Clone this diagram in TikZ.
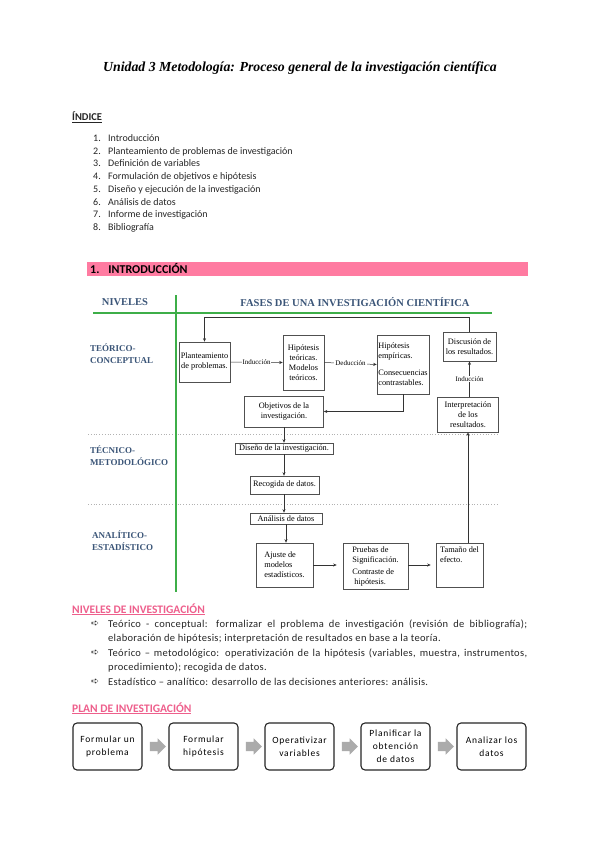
\documentclass[tikz,border=0pt]{standalone}
\usepackage{fontspec}
\setmainfont{Carlito}
\newfontfamily\serifd{Liberation Serif}
\newfontfamily\dingf{DejaVu Sans}
\newfontfamily\spacedf[LetterSpace=8]{Carlito}
\newfontfamily\bodyf[LetterSpace=3]{Carlito}
\usetikzlibrary{arrows.meta,shapes.arrows}
\definecolor{pinkbar}{HTML}{FF7BA1}
\definecolor{pinkhead}{HTML}{EE5F8C}
\definecolor{lvlblue}{HTML}{3B5578}
\definecolor{greenl}{HTML}{3DAE48}
\definecolor{boxline}{HTML}{505050}
\begin{document}
\hyphenpenalty=10000
\exhyphenpenalty=10000
\begin{tikzpicture}[x=1pt,y=-1pt,
  box/.style={draw=boxline, line width=0.6pt, inner sep=0.5pt, align=center,
    font=\serifd\fontsize{8.3}{10}\selectfont},
  lbox/.style={box, align=left},
  arr/.style={-{Stealth[length=3.5pt,width=3pt]}, line width=0.5pt, draw=black!80},
  arrlab/.style={fill=white, inner sep=1pt, font=\serifd\fontsize{7}{8}\selectfont},
  lvl/.style={font=\serifd\bfseries\fontsize{9}{12}\selectfont, text=lvlblue, align=left, anchor=north west, inner sep=0pt},
  hdr/.style={font=\serifd\bfseries\fontsize{10.5}{12}\selectfont, text=lvlblue, inner sep=0pt},
  idx/.style={anchor=base west, inner sep=0pt, font=\fontsize{10}{12}\selectfont, text=black!85},
  bul/.style={anchor=north west, inner sep=0pt, text width=419pt, align=justify,
    font=\bodyf\fontsize{10.5}{14}\selectfont, text=black!85},
  ding/.style={anchor=north west, inner sep=0pt, font=\dingf\fontsize{9.5}{14}\selectfont, text=black!85},
  pinkhd/.style={anchor=base west, inner sep=0pt, font=\bfseries\fontsize{11.5}{13}\selectfont, text=pinkhead},
  planbox/.style={draw=black!85, line width=1.1pt, rounded corners=4pt, minimum width=69pt,
    minimum height=47pt, align=center, font=\spacedf\fontsize{9.5}{13}\selectfont, inner sep=1pt},
  blockarr/.style={single arrow, fill=black!33, draw=none, minimum height=16pt,
    single arrow head extend=3.5pt, inner sep=4.5pt}
]
\fill[white] (0,0) rectangle (599,848);
\useasboundingbox (0,0) rectangle (599,848);

% title
\node (title) at (300,68) {\fontspec{Liberation Serif}\bfseries\itshape\fontsize{13.8}{16}\selectfont Unidad 3 Metodología: Proceso general de la investigación científica};

% index
\node[idx, font=\bfseries\fontsize{10.5}{12}\selectfont] (indice) at (72,121) {\underline{ÍNDICE}};
\foreach \n/\t [count=\i from 0] in {1/Introducción, 2/Planteamiento de problemas de investigación, 3/Definición de variables, 4/Formulación de objetivos e hipótesis, 5/Diseño y ejecución de la investigación, 6/Análisis de datos, 7/Informe de investigación, 8/Bibliografía}{
  \node[idx] (num\n) at (93,141.5+12.7*\i) {\n.};
  \node[idx] (item\n) at (108,141.5+12.7*\i) {\t};
}

% pink bar
\fill[pinkbar] (87,262) rectangle (528,276);
\node[idx, font=\bfseries\fontsize{12}{13}\selectfont, text=black] (intro) at (90,273.5) {1.\hspace{9pt}INTRODUCCIÓN};

% diagram frame
\draw[black!30, line width=0.8pt, dotted] (88,434) -- (498,434);
\draw[black!30, line width=0.8pt, dotted] (88,504) -- (498,504);
\draw[greenl, line width=2.2pt] (93,313) -- (492,313);
\draw[greenl, line width=2.2pt] (176,295) -- (176,592);

\node[hdr] (niveles) at (125,302) {NIVELES};
\node[hdr] (fases) at (355,302) {FASES DE UNA INVESTIGACIÓN CIENTÍFICA};

\node[lvl] (teo) at (90,344) {TEÓRICO-\\CONCEPTUAL};
\node[lvl] (tec) at (90,446) {TÉCNICO-\\METODOLÓGICO};
\node[lvl] (ana) at (92,531) {ANALÍTICO-\\ESTADÍSTICO};

% boxes
\node[box, minimum width=51pt, minimum height=40pt] (plant) at (204.5,362) {Planteamiento\\de problemas.};
\node[box, minimum width=41pt, minimum height=55pt] (hipt) at (303.5,362.5) {Hipótesis\\teóricas.\\Modelos\\teóricos.};
\node[lbox, minimum width=52pt, minimum height=59pt] (hipe) at (403,364.5) {Hipótesis\\empíricas.\\[7pt]Consecuencias\\contrastables.};
\node[box, minimum width=79pt, minimum height=31pt] (obj) at (284,411.5) {Objetivos de la\\investigación.};
\node[box, minimum width=53pt, minimum height=29pt] (disc) at (469.5,346.5) {Discusión de\\los resultados.};
\node[box, minimum width=61pt, minimum height=35pt] (interp) at (468,414.5) {Interpretación\\de los\\resultados.};
\node[box, minimum width=98pt, minimum height=11pt, inner sep=0.3pt] (dis) at (284,448.5) {Diseño de la investigación.};
\node[box, minimum width=69pt, minimum height=18pt] (rec) at (284.5,485) {Recogida de datos.};
\node[box, minimum width=72pt, minimum height=11pt, inner sep=0.3pt] (anal) at (286,518.5) {Análisis de datos};
\node[lbox, minimum width=57pt, minimum height=44pt] (ajus) at (284.5,565) {Ajuste de\\modelos\\estadísticos.};
\node[lbox, minimum width=65pt, minimum height=46pt] (prue) at (375.5,566) {Pruebas de\\Significación.\\[2pt]Contraste de\\\ hipótesis.};
\node[lbox, minimum width=47pt, minimum height=44pt] (tam) at (459.5,565) {Tamaño del\\efecto.\\~\\~};

% connectors
\draw[arr] (disc.north) -- ++(0,-14) -| (plant.north);
\draw[arr] (plant.east) -- node[arrlab] {Inducción} (hipt.west);
\draw[arr] (hipt.east) -- node[arrlab] {Deducción} (hipe.west);
\draw[arr] (hipe.south) |- (obj.east);
\draw[arr] (dis.north |- obj.south) -- (dis.north);
\draw[arr] (dis.south) -- (dis.south |- rec.north);
\draw[arr] (dis.south |- rec.south) -- (dis.south |- anal.north);
\draw[arr] (anal.south) -- (anal.south |- ajus.north);
\draw[arr, shorten >=6pt] (ajus.east) -- (ajus.east -| prue.west);
\draw[arr, shorten >=5pt] (prue.east |- ajus.east) -- (ajus.east -| tam.west);
\draw[arr] (interp.south |- tam.north) -- (interp.south);
\draw[arr] (disc.south |- interp.north) -- node[arrlab, fill=white] {Inducción} (disc.south);

% niveles de investigacion
\node[pinkhd] (nivhd) at (72,613) {\underline{NIVELES DE INVESTIGACIÓN}};
\node[ding] (d1) at (91,621) {➪};
\node[bul] (b1) at (108,620) {Teórico - conceptual: formalizar el problema de investigación (revisión de bibliografía); elaboración de hipótesis; interpretación de resultados en base a la teoría.};
\node[ding] (d2) at (91,650) {➪};
\node[bul] (b2) at (108,649) {Teórico – metodológico: operativización de la hipótesis (variables, muestra, instrumentos, procedimiento); recogida de datos.};
\node[ding] (d3) at (91,679) {➪};
\node[bul] (b3) at (108,678) {Estadístico – analítico: desarrollo de las decisiones anteriores: análisis.};

% plan de investigacion
\node[pinkhd] (planhd) at (72,712) {\underline{PLAN DE INVESTIGACIÓN}};
\node[planbox] (p1) at (107.5,746.5) {Formular un\\problema};
\node[planbox] (p2) at (203.5,746.5) {Formular\\hipótesis};
\node[planbox] (p3) at (299.5,746.5) {Operativizar\\variables};
\node[planbox] (p4) at (395.5,746.5) {Planificar la\\obtención\\de datos};
\node[planbox] (p5) at (491.5,746.5) {Analizar los\\datos};
\path (p1.east) -- node[blockarr] (a12) {} (p2.west);
\path (p2.east) -- node[blockarr] (a23) {} (p3.west);
\path (p3.east) -- node[blockarr] (a34) {} (p4.west);
\path (p4.east) -- node[blockarr] (a45) {} (p5.west);
\end{tikzpicture}
\end{document}
